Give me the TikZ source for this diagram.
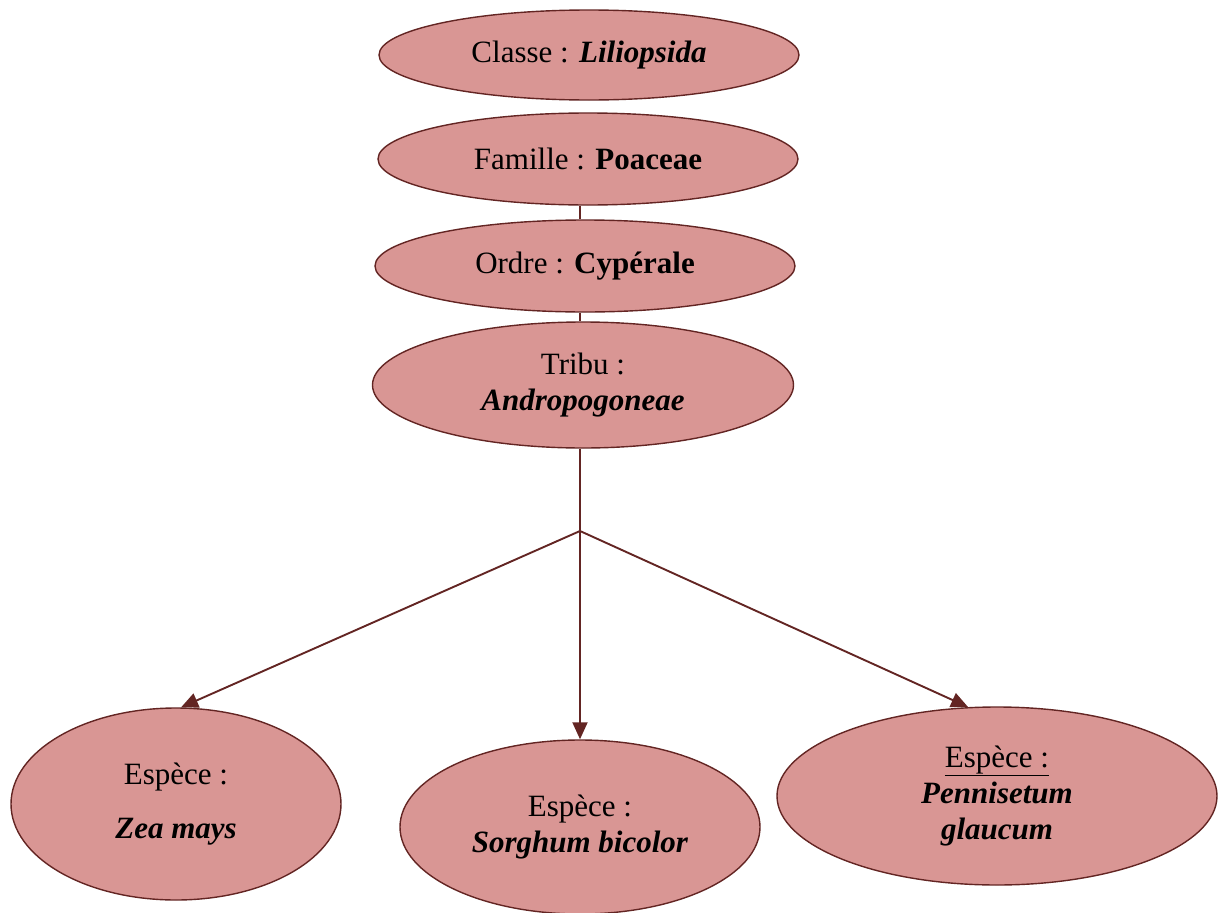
\documentclass[tikz,border=0pt]{standalone}
\usepackage{fontspec}
\setmainfont{Liberation Serif}
\usepackage{tikz}
\usetikzlibrary{shapes.geometric, arrows.meta}
\usepackage{xcolor}
\definecolor{rankfill}{HTML}{D99694}
\definecolor{rankline}{HTML}{632523}

\begin{document}
\begin{tikzpicture}[x=1pt, y=-1pt,
    rank/.style={ellipse, draw=rankline, fill=rankfill, line width=1.4pt,
        inner sep=0pt, align=center, font=\fontsize{31}{36}\selectfont},
    link/.style={draw=rankline, line width=1.9pt},
    arrowlink/.style={link, -{Triangle[length=17pt, width=15pt]}}]

    \useasboundingbox (0,0) rectangle (1219,913);

    % Upper ranks
    \node[rank, minimum width=420pt, minimum height=90pt] (classe) at (589,55) {Classe : \textbf{\textit{Liliopsida}}};
    \node[rank, minimum width=420pt, minimum height=92pt] (famille) at (588,159) {Famille : \textbf{Poaceae}};
    \node[rank, minimum width=420pt, minimum height=92pt] (ordre) at (585,266) {Ordre : \textbf{Cypérale}};
    \node[rank, minimum width=421pt, minimum height=126pt] (tribu) at (583,385) {Tribu :\\\textbf{\textit{Andropogoneae}}};

    % Species
    \node[rank, minimum width=330pt, minimum height=192pt] (zea) at (176,804) {Espèce :\\[18pt]\textbf{\textit{Zea mays}}};
    \node[rank, minimum width=360pt, minimum height=174pt] (sorgho) at (580,827) {Espèce :\\\textbf{\textit{Sorghum bicolor}}};
    \node[rank, minimum width=440pt, minimum height=178pt] (mil) at (997,796) {\underline{Espèce :}\\\textbf{\textit{Pennisetum}}\\\textbf{\textit{glaucum}}};

    % Branching point
    \coordinate (fork) at (580,531);

    % Vertical links
    \draw[link] (famille.south -| fork) -- (ordre.north -| fork);
    \draw[link] (ordre.south -| fork) -- (tribu.north -| fork);
    \draw[link] (tribu.south -| fork) -- (fork);

    % Arrows to the species
    \draw[arrowlink] (fork) -- (zea.87);
    \draw[arrowlink] (fork) -- (sorgho.north);
    \draw[arrowlink] (fork) -- (mil.108);
\end{tikzpicture}
\end{document}
